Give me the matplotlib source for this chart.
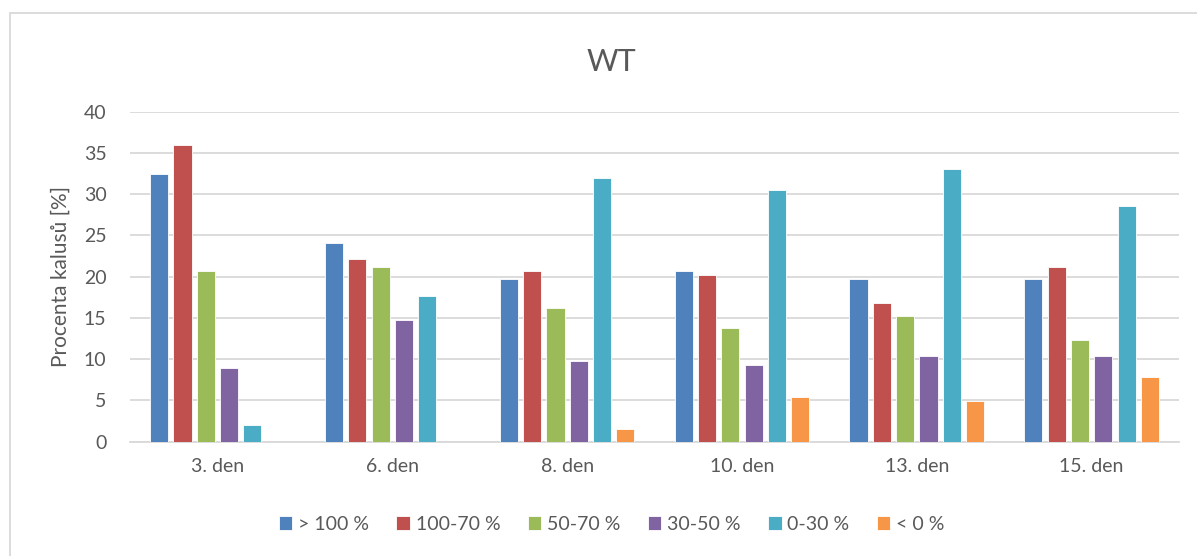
import numpy as np
import matplotlib.pyplot as plt
from matplotlib.patches import Rectangle

plt.rcParams['font.family'] = ['Lato', 'DejaVu Sans']

days = ['3. den', '6. den', '8. den', '10. den', '13. den', '15. den']
series = ['> 100 %', '100-70 %', '50-70 %', '30-50 %', '0-30 %', '< 0 %']
colors = ['#4F81BD', '#C0504D', '#9BBB59', '#8064A2', '#4BACC6', '#F79646']

over_100 = [32.5, 24.1, 19.7, 20.65, 19.7, 19.7]
r100_70 = [36.0, 22.2, 20.65, 20.2, 16.8, 21.2]
r50_70 = [20.65, 21.2, 16.25, 13.8, 15.25, 12.3]
r30_50 = [8.9, 14.75, 9.8, 9.35, 10.35, 10.35]
r0_30 = [2.0, 17.7, 32.0, 30.5, 33.0, 28.6]
under_0 = [0, 0, 1.5, 5.4, 4.9, 7.85]

values = [over_100, r100_70, r50_70, r30_50, r0_30, under_0]

txt = '#595959'
fig = plt.figure(figsize=(11.97, 5.56), dpi=100)
ax = fig.add_axes([0.1086, 0.2056, 0.8764, 0.5935])

x = np.arange(len(days))
step = 0.8 / len(series)
width = step * 0.78
for i, (name, vals) in enumerate(zip(series, values)):
    ax.bar(x - 0.4 + step * (i + 0.5), vals, width, color=colors[i],
           edgecolor='white', linewidth=0.6, label=name, zorder=3)

ax.set_xlim(-0.5, len(days) - 0.5)
ax.set_ylim(0, 40)
ax.set_yticks(range(0, 41, 5))
ax.set_xticks(x)
ax.set_xticklabels(days)
ax.grid(axis='y', color='#d9d9d9', linewidth=1.3, zorder=0)
ax.tick_params(length=0, labelsize=14, colors=txt, pad=12)
ax.tick_params(axis='y', pad=17)
for s in ['top', 'right', 'left']:
    ax.spines[s].set_visible(False)
ax.spines['bottom'].set_color('#d9d9d9')
ax.spines['bottom'].set_linewidth(1.3)

ax.set_ylabel('Procenta kalusů [%]', fontsize=15, color=txt, labelpad=9)
fig.text(0.511, 0.889, 'WT', fontsize=22, color=txt, ha='center', va='center')

leg = fig.legend(loc='center', bbox_to_anchor=(0.511, 0.057), ncol=6,
                 frameon=False, fontsize=14, labelcolor=txt,
                 handlelength=0.7, handleheight=0.7, handletextpad=0.3,
                 columnspacing=1.4)

# outer chart border
fig.add_artist(Rectangle((10 / 1197, -0.1), 1.2, (556 - 13) / 556 + 0.1,
                         transform=fig.transFigure, fill=False,
                         edgecolor='#d9d9d9', linewidth=1.3))

fig.savefig('out.png', dpi=100)
